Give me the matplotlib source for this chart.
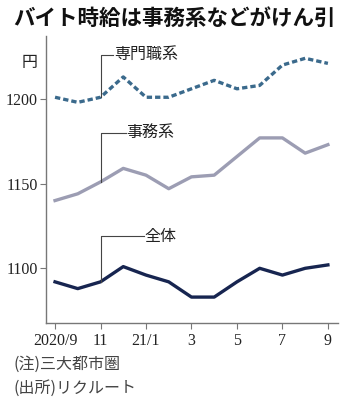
import matplotlib.pyplot as plt

plt.rcParams['font.family'] = ['Noto Sans CJK JP', 'DejaVu Sans']

# 2020/9 .. 2021/9, monthly hourly wage (yen)
months = list(range(13))
tick_pos = [0, 2, 4, 6, 8, 10, 12]
tick_labels = ["2020/9", "11", "21/1", "3", "5", "7", "9"]

senmon = [1201, 1198, 1201, 1213, 1201, 1201, 1206, 1211, 1206, 1208, 1220, 1224, 1221]
jimu = [1140, 1144, 1151, 1159, 1155, 1147, 1154, 1155, 1166, 1177, 1177, 1168, 1173]
zentai = [1092, 1088, 1092, 1101, 1096, 1092, 1083, 1083, 1092, 1100, 1096, 1100, 1102]

fig = plt.figure(figsize=(3.48, 4.04), dpi=100)
ax = fig.add_axes([0.132, 0.2005, 0.839, 0.7105])

ax.plot(months, senmon, color="#3b6a8c", lw=2.4, ls=(0, (1.6, 0.9)))
ax.plot(months, jimu, color="#9c9db3", lw=2.4)
ax.plot(months, zentai, color="#172550", lw=2.4)

ax.set_xlim(-0.4, 12.44)
ax.set_ylim(1067.7, 1237.2)

for s in ("top", "right"):
    ax.spines[s].set_visible(False)
for s in ("left", "bottom"):
    ax.spines[s].set_color("#777777")
    ax.spines[s].set_linewidth(1.0)

num_font = dict(family="Liberation Serif", size=11.5)
ax.set_yticks([1100, 1150, 1200])
ax.set_yticklabels(["1100", "1150", "1200"], fontdict=num_font)
ax.set_xticks(tick_pos)
ax.set_xticklabels(tick_labels, fontdict=num_font)
ax.tick_params(axis="both", colors="#777777", labelcolor="#222222", length=4, width=0.8, pad=2)
ax.tick_params(axis="x", pad=3)

# leader lines from the Nov point to each series label
labels = [("専門職系", senmon, 1226, 2.55), ("事務系", jimu, 1180, 3.1), ("全体", zentai, 1119, 3.9)]
for text, series, y_lab, x_end in labels:
    ax.plot([2, 2, x_end], [series[2], y_lab, y_lab], color="#444444", lw=0.8)
    ax.text(x_end + 0.05, y_lab, text, fontsize=11.5, va="center", ha="left", color="#222222")

fig.text(0.086, 0.845, "円", fontsize=11.5, ha="center", va="center", color="#222222")
fig.text(0.5, 0.955, "バイト時給は事務系などがけん引", fontsize=15.5, fontweight="bold",
         ha="center", va="center", color="#111111")
fig.text(0.038, 0.099, "(注)三大都市圏", fontsize=11.5, ha="left", va="center", color="#444444")
fig.text(0.038, 0.04, "(出所)リクルート", fontsize=11.5, ha="left", va="center", color="#444444")

fig.savefig("out.png", dpi=100)
